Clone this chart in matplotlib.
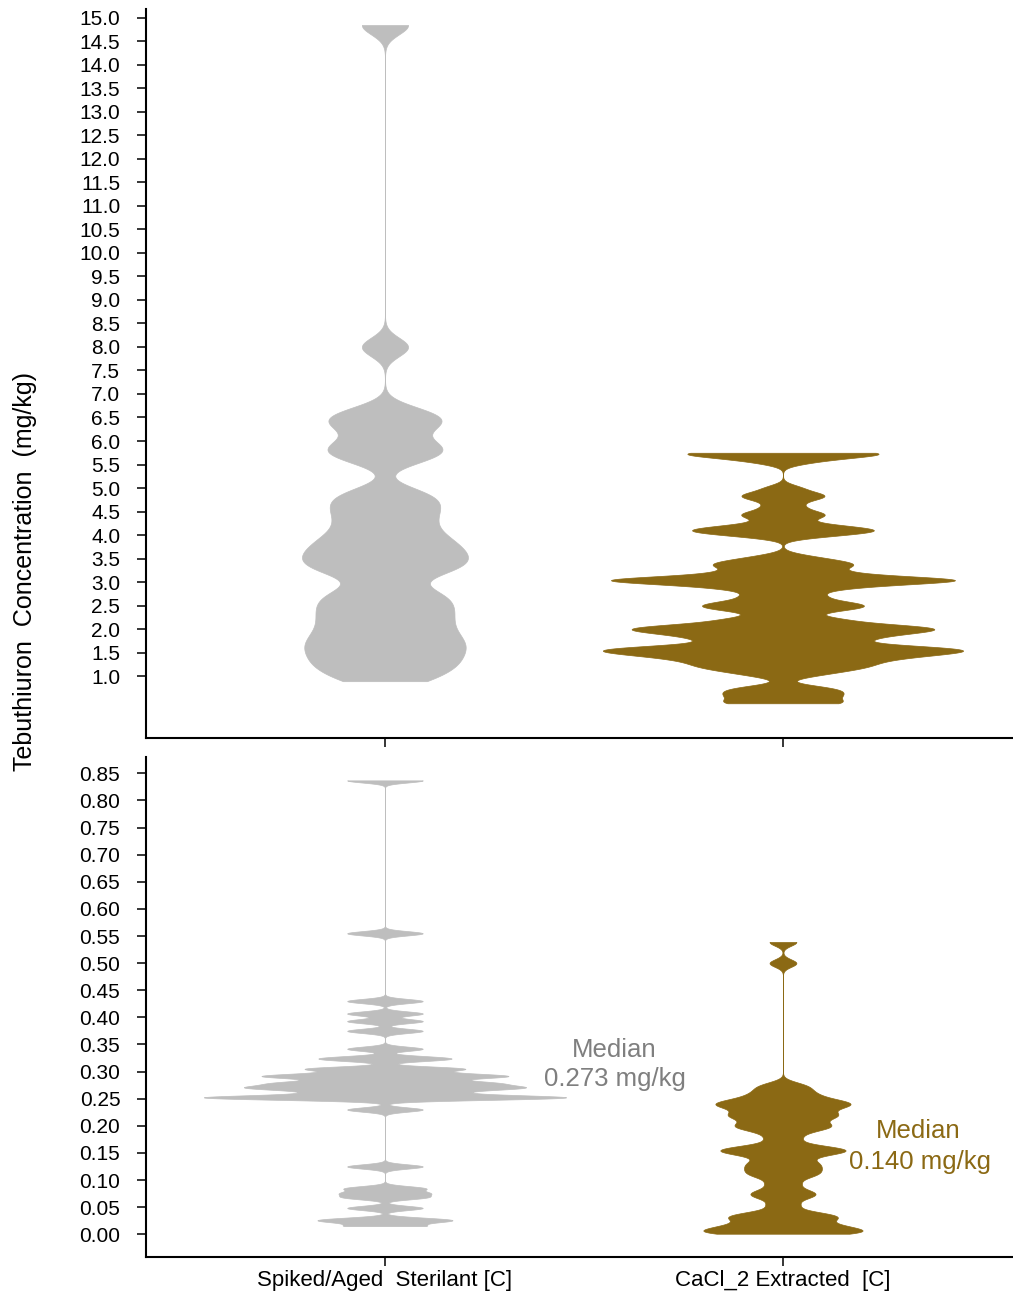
import matplotlib
matplotlib.use('Agg')
import matplotlib.pyplot as plt
import numpy as np

plt.rcParams['font.family'] = ['Liberation Sans', 'DejaVu Sans']

categories = ['Spiked/Aged  Sterilant [C]', 'CaCl_2 Extracted  [C]']
gray = '#bebebe'
brown = '#8b6914'

# upper panel, mg/kg (observations, one per value)
sterilant_hi = [14.85, 8.0, 6.62, 6.45, 6.28, 5.95, 5.8, 5.62, 4.9, 4.7, 4.5, 4.28,
                4.05, 3.87, 3.72, 3.58, 3.45, 3.32, 3.18, 2.82, 2.65, 2.48, 2.32,
                2.15, 1.98, 1.82, 1.68, 1.55, 1.4, 1.25, 1.1, 0.89]
cacl_hi = [5.75, 5.65, 5.55, 5.0, 4.85, 4.75, 4.6, 4.45, 4.35, 4.2, 4.1, 4.0,
           3.55, 3.45, 3.35, 3.2, 3.05, 2.95, 2.85, 2.7, 2.55, 2.45, 2.35, 2.2,
           2.05, 1.95, 1.85, 1.75, 1.6, 1.5, 1.4, 1.3, 1.2, 1.1, 1.0, 0.75,
           0.65, 0.55, 0.42]
cacl_hi_n = [5, 2, 1, 1, 2, 1, 1, 2, 1, 2, 4, 2,
             1, 2, 3, 3, 9, 3, 2, 2, 3, 3, 1, 3,
             6, 5, 3, 3, 7, 6, 4, 3, 3, 2, 1, 2,
             2, 2, 3]

# lower panel, mg/kg
sterilant_lo = [0.837, 0.555, 0.430, 0.407, 0.393, 0.375, 0.342, 0.326, 0.322,
                0.3055, 0.297, 0.292, 0.289, 0.282, 0.279, 0.277, 0.272, 0.270,
                0.265, 0.260, 0.255, 0.252, 0.250, 0.230, 0.125, 0.085,
                0.076, 0.068, 0.0485, 0.028, 0.024, 0.015]
sterilant_lo_n = [1, 1, 1, 1, 1, 1, 1, 1, 1,
                  2, 1, 2, 1, 1, 1, 1, 1, 2,
                  1, 1, 1, 3, 1, 1, 1, 1,
                  1, 1, 1, 1, 1, 1]
cacl_lo = [0.539, 0.500, 0.276, 0.268, 0.260, 0.254, 0.248, 0.243, 0.239, 0.235,
           0.233, 0.226, 0.220, 0.215, 0.209, 0.202, 0.199, 0.196, 0.188, 0.176,
           0.163, 0.158, 0.156, 0.154, 0.150, 0.146, 0.136, 0.130, 0.124, 0.118,
           0.112, 0.106, 0.093, 0.080, 0.074, 0.068, 0.054, 0.040, 0.034, 0.029,
           0.024, 0.018, 0.013, 0.008, 0.004, 0.001]
cacl_lo_n = [1, 1, 1, 1, 1, 1, 1, 2, 1, 1,
             1, 1, 2, 1, 1, 1, 1, 1, 1, 1,
             1, 1, 1, 1, 1, 1, 1, 1, 1, 1,
             1, 1, 1, 1, 1, 1, 1, 1, 2, 1,
             1, 1, 2, 1, 2, 2]

medians = [('Median', '0.273 mg/kg'), ('Median', '0.140 mg/kg')]


def violin(ax, vals, counts, pos, sigma, width, color):
    data = np.repeat(np.array(vals, dtype=float), counts)
    bw = sigma / np.std(data, ddof=1)
    parts = ax.violinplot([data], positions=[pos], widths=width, bw_method=bw,
                          points=2000, showextrema=False)
    for b in parts['bodies']:
        b.set_facecolor(color)
        b.set_edgecolor(color)
        b.set_linewidth(0.5)
        b.set_alpha(1)


fig = plt.figure(figsize=(10.13, 12.91), dpi=100)
ax1 = fig.add_axes([0.1441, 0.4283, 0.8559, 0.5647])
ax2 = fig.add_axes([0.1441, 0.0263, 0.8559, 0.3873])

violin(ax1, sterilant_hi, [1] * len(sterilant_hi), 0, 0.2, 0.417, gray)
violin(ax1, cacl_hi, cacl_hi_n, 1, 0.08, 0.905, brown)
violin(ax2, sterilant_lo, sterilant_lo_n, 0, 0.004, 0.91, gray)
violin(ax2, cacl_lo, cacl_lo_n, 1, 0.007, 0.40, brown)

for ax in (ax1, ax2):
    ax.set_xlim(-0.6005, 1.578)
    ax.spines['top'].set_visible(False)
    ax.spines['right'].set_visible(False)
    ax.spines['left'].set_linewidth(1.5)
    ax.spines['bottom'].set_linewidth(1.5)
    ax.tick_params(axis='y', length=6.5, width=1.1, labelsize=15, pad=12)
    ax.tick_params(axis='x', length=6.5, width=1.1, pad=3)
    ax.set_xticks([0, 1])

ax1.set_ylim(-0.32, 15.19)
ax1.set_yticks(np.arange(1.0, 15.01, 0.5))
ax1.set_yticklabels(['%.1f' % v for v in np.arange(1.0, 15.01, 0.5)])
ax1.set_xticklabels([])

ax2.set_ylim(-0.042, 0.88)
ax2.set_yticks(np.arange(0, 0.851, 0.05))
ax2.set_yticklabels(['%.2f' % v for v in np.arange(0, 0.851, 0.05)])
ax2.set_xticklabels(categories, fontsize=16)

ax2.text(0.575, 0.339, medians[0][0], color='#7f7f7f', fontsize=18.5,
         ha='center', va='center')
ax2.text(0.578, 0.286, medians[0][1], color='#7f7f7f', fontsize=18.5,
         ha='center', va='center')
ax2.text(1.339, 0.190, medians[1][0], color=brown, fontsize=18.5,
         ha='center', va='center')
ax2.text(1.344, 0.133, medians[1][1], color=brown, fontsize=18.5,
         ha='center', va='center')

fig.text(0.0247, 0.557, 'Tebuthiuron  Concentration  (mg/kg)', rotation=90,
         ha='center', va='center', fontsize=18)

fig.savefig('out.png', dpi=100)
